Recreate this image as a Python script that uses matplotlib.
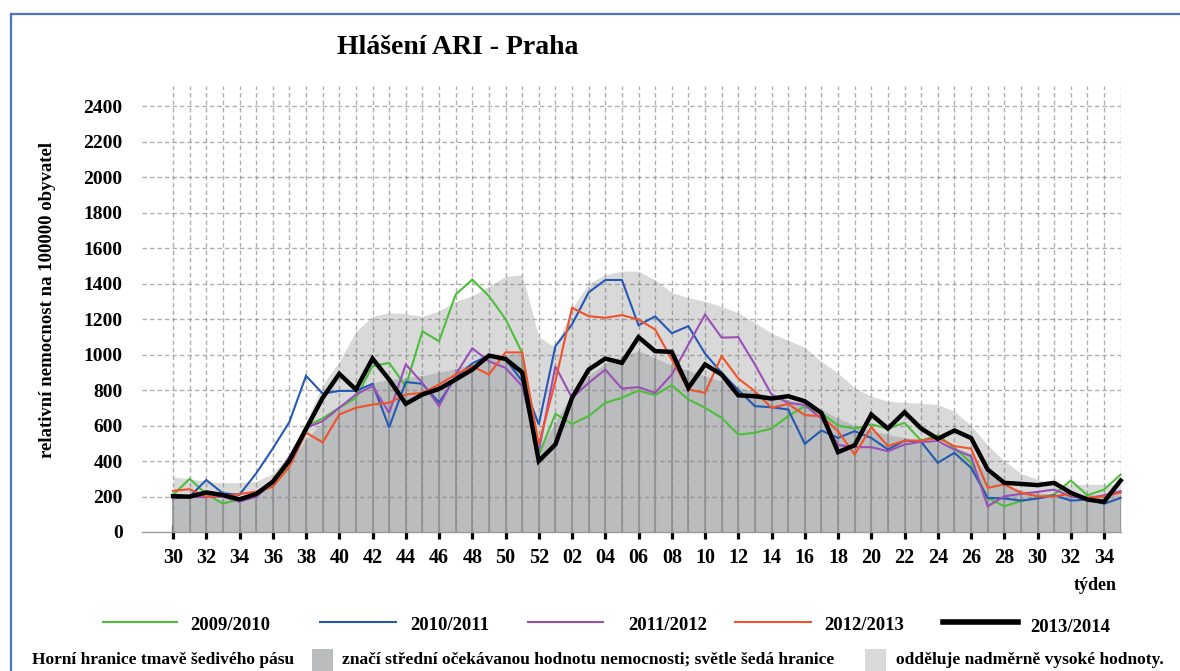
import numpy as np
import matplotlib
matplotlib.use("Agg")
import matplotlib.pyplot as plt
from matplotlib.lines import Line2D
from matplotlib.patches import Rectangle

plt.rcParams['font.family'] = ['Liberation Serif', 'DejaVu Serif']
plt.rcParams['font.weight'] = 'bold'

# season weeks 30..52, then 01..35
weeks = list(range(30, 53)) + list(range(1, 36))

s2009 = [208, 300, 214, 160, 184, 208, 274, 387, 596, 640, 700, 756, 934, 953, 822, 1131,
         1075, 1338, 1422, 1330, 1200, 1010, 433, 666, 609, 653, 728, 756, 797, 771, 827,
         747, 700, 643, 549, 559, 583, 653, 709, 671, 600, 583, 606, 583, 615, 515, 545,
         474, 390, 192, 145, 174, 192, 211, 290, 207, 239, 324]
s2010 = [190, 199, 293, 218, 210, 330, 470, 620, 880, 780, 795, 795, 835, 590, 845, 835,
         730, 870, 950, 995, 975, 850, 606, 1047, 1170, 1350, 1420, 1420, 1165, 1215, 1120,
         1160, 1005, 897, 800, 709, 703, 690, 497, 572, 530, 568, 530, 465, 515, 508, 390,
         446, 362, 192, 189, 177, 189, 207, 177, 183, 159, 192]
s2011 = [190, 199, 195, 199, 171, 199, 274, 425, 587, 624, 700, 775, 822, 671, 944, 840,
         709, 887, 1035, 962, 925, 822, 455, 934, 756, 840, 915, 808, 816, 784, 887,
         1056, 1225, 1095, 1098, 944, 775, 728, 715, 639, 490, 478, 478, 455, 493, 508, 512,
         465, 427, 145, 201, 215, 226, 239, 201, 189, 207, 230]
s2012 = [232, 241, 199, 203, 214, 227, 255, 368, 560, 505, 662, 700, 718, 728, 775, 784,
         831, 887, 934, 887, 1012, 1012, 493, 850, 1263, 1216, 1207, 1222, 1197, 1141, 972,
         803, 784, 991, 865, 793, 700, 722, 658, 653, 568, 437, 590, 484, 515, 515, 530,
         484, 470, 249, 268, 221, 201, 201, 215, 192, 201, 221]
s2013 = [202, 199, 223, 208, 184, 214, 283, 403, 580, 756, 891, 803, 977, 859, 722, 775,
         806, 859, 915, 994, 975, 900, 400, 493, 756, 915, 977, 953, 1098, 1019, 1015,
         812, 944, 887, 770, 765, 752, 765, 737, 671, 450, 489, 662, 583, 675, 583, 525,
         572, 530, 352, 277, 271, 264, 277, 221, 183, 170, 290]

# expected level (dark band) and upper limit of normal values (light band)
band_mean = [200, 195, 190, 185, 185, 200, 290, 390, 520, 620, 710, 780, 840, 860, 870, 880,
             900, 920, 950, 980, 1000, 1010, 450, 620, 780, 880, 950, 990, 1020, 980, 940,
             910, 880, 850, 815, 790, 765, 745, 725, 690, 640, 600, 570, 550, 530, 520, 500,
             480, 440, 330, 260, 235, 220, 215, 210, 210, 210, 210]
band_upper = [310, 300, 285, 278, 278, 285, 330, 440, 620, 830, 960, 1130, 1215, 1235, 1230,
              1215, 1245, 1300, 1330, 1385, 1440, 1450, 1100, 1040, 1260, 1400, 1450, 1470,
              1470, 1420, 1350, 1320, 1300, 1270, 1235, 1180, 1120, 1080, 1040, 960, 896, 812,
              765, 737, 730, 725, 718, 680, 600, 490, 400, 330, 296, 270, 268, 268, 268, 268]

season_labels = ['2009/2010', '2010/2011', '2011/2012', '2012/2013', '2013/2014']
season_colors = ['#4cbf3a', '#2459b3', '#9a4fb8', '#f0522a', '#000000']
season_widths = [1.5, 1.5, 1.5, 1.5, 3.2]

W, H = 1180, 671
fig = plt.figure(figsize=(W / 100, H / 100), dpi=100)


def fx(px):
    return px / W


def fy(py):
    return 1 - py / H


ax = fig.add_axes([fx(142), fy(532), fx(1121) - fx(142), fy(86) - fy(532)])
x = np.arange(len(weeks))
ax.set_xlim(-1.865, 57.02)
ax.set_ylim(0, 2513)

light_col = '#d9d9d9'
dark_col = '#babcbe'
ax.fill_between(x, 0, band_upper, color=light_col, lw=0, zorder=1)
ax.fill_between(x, 0, band_mean, color=dark_col, lw=0, zorder=2)

# dashed grid
dash = (0, (3.2, 2.2))
ax.hlines(np.arange(200, 2401, 200), -1.865, 57.02, colors='#7a7a7a', alpha=0.6,
          lw=1.0, linestyles=[dash], zorder=3)
ax.vlines(x, 0, 2513, colors='#7a7a7a', alpha=0.6, lw=1.0, linestyles=[dash], zorder=3)
# solid week separators inside the expected-level band
ax.vlines(x, 0, band_mean, colors='#8e9092', lw=1.2, zorder=3.5)

series = [s2009, s2010, s2011, s2012, s2013]
for vals, c, lw in zip(series, season_colors, season_widths):
    ax.plot(x, vals, color=c, lw=lw, zorder=6 if c == '#000000' else 5,
            solid_joinstyle='miter', clip_on=False)

for side in ('top', 'right', 'left'):
    ax.spines[side].set_visible(False)
ax.spines['bottom'].set_color('#9a9a9a')
ax.spines['bottom'].set_linewidth(1.0)

ax.set_xticks(x[::2])
ax.set_xticklabels([f'{w:02d}' for w in weeks[::2]], fontsize=14.5, fontweight='bold')
ax.tick_params(axis='x', direction='inout', length=9.5, width=2.3, color='black', pad=7)
ax.set_yticks(np.arange(0, 2401, 200))
ax.set_yticklabels([str(v) for v in range(0, 2401, 200)], fontsize=14, fontweight='bold')
ax.tick_params(axis='y', length=0, pad=14)

fig.text(fx(458), fy(48), 'Hlášení ARI - Praha', ha='center', va='center',
         fontsize=20, fontweight='bold')
fig.text(fx(48), fy(300), 'relativní nemocnost na 100000 obyvatel', rotation=90,
         ha='center', va='center', fontsize=13.5, fontweight='bold')
fig.text(fx(1117), fy(585), 'týden', ha='right', va='center', fontsize=13,
         fontweight='bold')

# legend row
leg_lines = [(103, 177), (320, 396), (528, 603), (735, 811), (943, 1018)]
leg_text_x = [190, 410, 628, 824, 1030]
for (x0, x1), tx, lab, c, lw in zip(leg_lines, leg_text_x, season_labels,
                                    season_colors, season_widths):
    lwl = 1.5 if lw < 2 else 4.0
    fig.add_artist(Line2D([fx(x0), fx(x1)], [fy(622), fy(622)], color=c, lw=lwl))
    ty = 628 if c == '#000000' else 625
    fig.text(fx(tx), fy(ty), lab, ha='left', va='center', fontsize=13.5, fontweight='bold')

# band explanation row
fs_note = 12.5
fig.text(fx(32), fy(660), 'Horní hranice tmavě šedivého pásu', ha='left', va='center',
         fontsize=fs_note, fontweight='bold')
fig.add_artist(Rectangle((fx(312), fy(671)), fx(333) - fx(312), fy(649) - fy(671),
                         transform=fig.transFigure, color=dark_col, lw=0))
fig.text(fx(342), fy(660), 'značí střední očekávanou hodnotu nemocnosti; světle šedá hranice',
         ha='left', va='center', fontsize=fs_note, fontweight='bold')
fig.add_artist(Rectangle((fx(865), fy(671)), fx(886) - fx(865), fy(649) - fy(671),
                         transform=fig.transFigure, color=light_col, lw=0))
fig.text(fx(896), fy(660), 'odděluje nadměrně vysoké hodnoty.', ha='left', va='center',
         fontsize=fs_note, fontweight='bold')

# outer frame
frame_col = '#4a74c4'
fig.add_artist(Line2D([fx(11), fx(11)], [fy(14), 0], color=frame_col, lw=1.6))
fig.add_artist(Line2D([fx(11), 1], [fy(14), fy(14)], color=frame_col, lw=1.6))

fig.savefig('out.png', dpi=100)
